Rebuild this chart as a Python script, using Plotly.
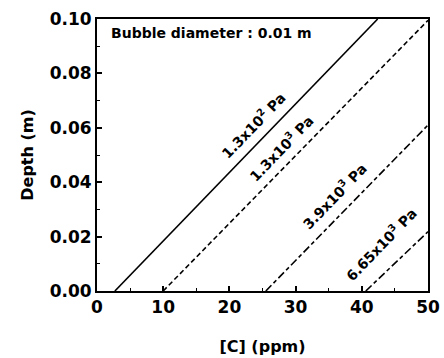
import plotly.graph_objects as go

# Data
conc_start = [2.7, 10.0, 25.5, 40.6]      # [C] (ppm) where depth = 0
depth_start = [0.0, 0.0, 0.0, 0.0]
conc_end = [42.4, 50.0, 50.0, 50.0]       # [C] at the end of each line
depth_end = [0.1, 0.0995, 0.061, 0.0218]  # depth (m) at the end of each line
pressure_labels = ["1.3x10<sup>2</sup> Pa", "1.3x10<sup>3</sup> Pa",
                   "3.9x10<sup>3</sup> Pa", "6.65x10<sup>3</sup> Pa"]
label_conc = [23.6, 27.8, 35.8, 42.9]
label_depth = [0.061, 0.0525, 0.035, 0.0172]
x_ticks = [0, 10, 20, 30, 40, 50]
y_ticks = [0.00, 0.02, 0.04, 0.06, 0.08, 0.10]

dash_styles = ["solid", "5px,3px", "8px,3px,4px,3px", "8px,3px,4px,3px"]

FONT = "DejaVu Sans"

fig = go.Figure()
for i in range(len(conc_start)):
    fig.add_trace(go.Scatter(
        x=[conc_start[i], conc_end[i]],
        y=[depth_start[i], depth_end[i]],
        mode="lines",
        line=dict(color="black", width=1.6, dash=dash_styles[i]),
        showlegend=False,
        hoverinfo="skip",
    ))
    fig.add_annotation(
        x=label_conc[i], y=label_depth[i],
        text="<b>" + pressure_labels[i] + "</b>",
        showarrow=False, textangle=-46,
        font=dict(family=FONT, size=14, color="black"),
    )

fig.add_annotation(
    x=0.035, y=0.985, xref="paper", yref="paper",
    xanchor="left", yanchor="top",
    text="<b>Bubble diameter : 0.01 m</b>",
    showarrow=False,
    font=dict(family=FONT, size=14, color="black"),
)

fig.update_layout(
    width=444, height=358,
    margin=dict(l=97, r=16, t=19, b=67, autoexpand=False),
    paper_bgcolor="white", plot_bgcolor="white",
    font=dict(family=FONT, color="black"),
)
fig.update_xaxes(
    range=[0, 50], tickvals=x_ticks, ticktext=[str(v) for v in x_ticks],
    ticks="inside", ticklen=5, tickwidth=1.5, tickcolor="black",
    minor=dict(dtick=5, ticks="inside", ticklen=3, tickcolor="black", tickwidth=1.2),
    showline=True, linecolor="black", linewidth=2, mirror=True,
    showgrid=False, zeroline=False, automargin=False,
    tickfont=dict(family=FONT, size=17, color="black", weight="bold"),
    title=dict(text="<b>[C] (ppm)</b>", font=dict(family=FONT, size=16, color="black"), standoff=24),
)
fig.update_yaxes(
    range=[0, 0.1], tickvals=y_ticks, ticktext=["%.2f" % v for v in y_ticks],
    ticks="inside", ticklen=5, tickwidth=1.5, tickcolor="black",
    minor=dict(dtick=0.01, ticks="inside", ticklen=3, tickcolor="black", tickwidth=1.2),
    showline=True, linecolor="black", linewidth=2, mirror=True,
    showgrid=False, zeroline=False, automargin=False,
    tickfont=dict(family=FONT, size=17, color="black", weight="bold"),
    title=dict(text="<b>Depth (m)</b>", font=dict(family=FONT, size=16, color="black"), standoff=12),
)

fig.write_html("out.html")
